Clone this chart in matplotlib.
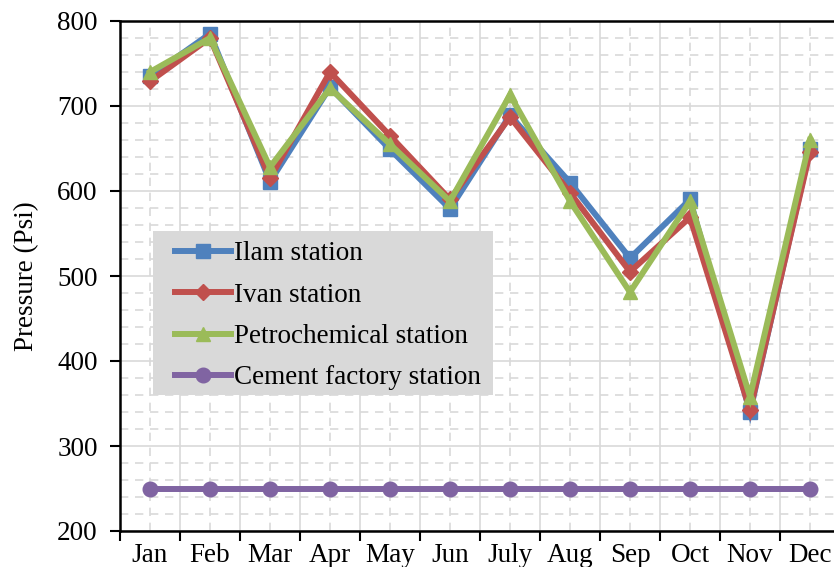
import matplotlib
matplotlib.use("Agg")
import matplotlib.pyplot as plt
from matplotlib.patches import Rectangle
from matplotlib.ticker import MultipleLocator, FixedLocator, NullFormatter

plt.rcParams['font.family'] = ['Liberation Serif', 'DejaVu Serif']

months = ["Jan", "Feb", "Mar", "Apr", "May", "Jun", "July", "Aug", "Sep", "Oct", "Nov", "Dec"]
ilam = [735, 785, 611, 722, 649, 579, 689, 610, 521, 590, 340, 649]
ivan = [729, 780, 615, 740, 665, 590, 687, 598, 505, 569, 342, 646]
petro = [740, 780, 628, 721, 655, 588, 713, 588, 481, 588, 358, 660]
cement = [250, 250, 250, 250, 250, 250, 250, 250, 250, 250, 250, 250]

series = [
    ("Ilam station", ilam, "#4F81BD", "s", 9.5),
    ("Ivan station", ivan, "#C0504D", "D", 8),
    ("Petrochemical station", petro, "#9BBB59", "^", 10.5),
    ("Cement factory station", cement, "#8064A2", "o", 10.5),
]

W, H = 834, 567
fig = plt.figure(figsize=(W / 100, H / 100), dpi=100)
ax = fig.add_axes([120 / W, 36 / H, 720 / W, 510 / H])

x = list(range(len(months)))
for name, vals, col, mk, ms in series:
    ax.plot(x, vals, color=col, lw=4.3, marker=mk, markersize=ms, label=name,
            solid_joinstyle='miter', zorder=3)

ax.set_xlim(-0.5, len(months) - 0.5)
ax.set_ylim(200, 800)

# x: major at boundaries (ticks), minor at centres (labels)
ax.xaxis.set_major_locator(FixedLocator([i - 0.5 for i in range(len(months) + 1)]))
ax.xaxis.set_major_formatter(NullFormatter())
ax.xaxis.set_minor_locator(FixedLocator(x))
ax.set_xticklabels(months, minor=True)
ax.tick_params(axis='x', which='major', direction='out', length=7, width=1.5, color='black')
ax.tick_params(axis='x', which='minor', length=0, labelsize=19.5, pad=8.5)

ax.yaxis.set_major_locator(MultipleLocator(100))
ax.yaxis.set_minor_locator(MultipleLocator(20))
ax.tick_params(axis='y', which='major', direction='out', length=7, width=1.5, labelsize=19.5, pad=9)
ax.tick_params(axis='y', which='minor', length=0)

ax.grid(which='major', color='#d9d9d9', lw=1.2, ls='-', zorder=0)
ax.grid(which='minor', color='#d9d9d9', lw=1.2, ls=(0, (5, 4)), zorder=0)
ax.set_axisbelow(True)

for s in ['left', 'bottom', 'top']:
    ax.spines[s].set_linewidth(1.8)
    ax.spines[s].set_color('black')
ax.spines['right'].set_visible(False)

ax.set_ylabel("Pressure (Psi)", fontsize=19.5)
ax.yaxis.set_label_coords(-0.113, 0.5)

# legend background box
bg = Rectangle((153 / W, 1 - 395 / H), 340 / W, 164 / H, transform=fig.transFigure,
               facecolor='#d9d9d9', edgecolor='none', clip_on=False, zorder=4.5)
ax.add_patch(bg)

leg = ax.legend(loc='upper left', bbox_to_anchor=(175 / W, 1 - 241.5 / H),
                bbox_transform=fig.transFigure, borderaxespad=0, fontsize=19.5,
                frameon=False, numpoints=1, handlelength=2.05, handletextpad=0.12,
                labelspacing=0.6, borderpad=0)
leg.set_zorder(5)

fig.savefig("out.png", dpi=100)
